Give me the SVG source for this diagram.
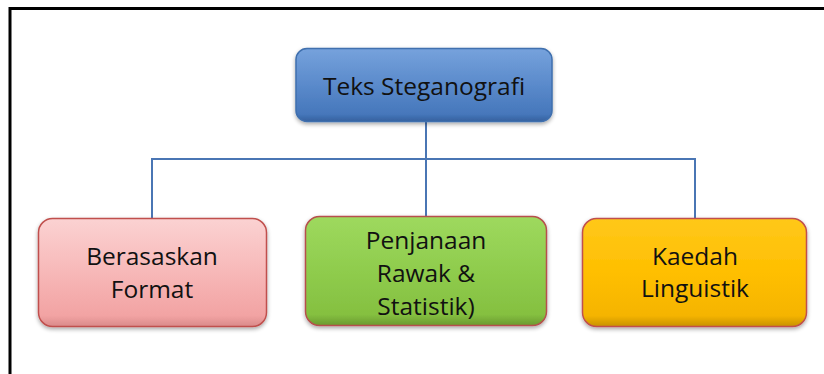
<svg xmlns="http://www.w3.org/2000/svg" width="824" height="374" viewBox="0 0 824 374">
  <style>
    .frame { fill: none; stroke: #000; stroke-width: 3; }
    .link { fill: none; stroke: #4a76b4; stroke-width: 2; }
    .box { stroke-width: 1.5; }
    .label { font-family: "Open Sans", "Liberation Sans", sans-serif; font-size: 24.5px; fill: #111; text-anchor: middle; }
  </style>
  <defs>
    <linearGradient id="gBlue" x1="0" y1="0" x2="0" y2="1">
      <stop offset="0" stop-color="#76a2dc"/>
      <stop offset="0.5" stop-color="#5a8acb"/>
      <stop offset="0.9" stop-color="#4677bb"/>
      <stop offset="1" stop-color="#35609e"/>
    </linearGradient>
    <linearGradient id="gPink" x1="0" y1="0" x2="0" y2="1">
      <stop offset="0" stop-color="#fbd2d2"/>
      <stop offset="0.5" stop-color="#f7b8b8"/>
      <stop offset="0.9" stop-color="#f2a3a3"/>
      <stop offset="1" stop-color="#d98a8a"/>
    </linearGradient>
    <linearGradient id="gGreen" x1="0" y1="0" x2="0" y2="1">
      <stop offset="0" stop-color="#9ed95e"/>
      <stop offset="0.5" stop-color="#8fcc4d"/>
      <stop offset="0.9" stop-color="#85c040"/>
      <stop offset="1" stop-color="#6a9a30"/>
    </linearGradient>
    <linearGradient id="gOrange" x1="0" y1="0" x2="0" y2="1">
      <stop offset="0" stop-color="#ffc81a"/>
      <stop offset="0.5" stop-color="#ffbf00"/>
      <stop offset="0.9" stop-color="#f5b400"/>
      <stop offset="1" stop-color="#c89200"/>
    </linearGradient>
    <filter id="shadow" x="-10%" y="-10%" width="120%" height="130%">
      <feGaussianBlur in="SourceAlpha" stdDeviation="2"/>
      <feOffset dx="0" dy="2" result="b"/>
      <feComponentTransfer><feFuncA type="linear" slope="0.35"/></feComponentTransfer>
      <feMerge><feMergeNode/><feMergeNode in="SourceGraphic"/></feMerge>
    </filter>
  </defs>

  <rect width="824" height="374" fill="#fff"/>
  <!-- open frame: top and left edges -->
  <path class="frame" d="M10 374 V8.5 H824"/>

  <g id="connectors">
    <path class="link" d="M426 122 V159"/>
    <path class="link" d="M152 218 V159 H695 V218"/>
    <path class="link" d="M426 159 V216"/>
  </g>

  <g id="root">
    <rect class="box" x="296" y="48.5" width="256" height="73" rx="11" fill="url(#gBlue)" stroke="#3f6fae" filter="url(#shadow)"/>
    <text class="label" x="424" y="95">Teks Steganografi</text>
  </g>

  <g id="format">
    <rect class="box" x="38.5" y="218.5" width="228" height="108" rx="14" fill="url(#gPink)" stroke="#c0504d" filter="url(#shadow)"/>
    <text class="label" x="152" y="265">Berasaskan</text>
    <text class="label" x="152" y="298">Format</text>
  </g>

  <g id="random">
    <rect class="box" x="305.5" y="216.5" width="241" height="109" rx="14" fill="url(#gGreen)" stroke="#b6504d" filter="url(#shadow)"/>
    <text class="label" x="426" y="249">Penjanaan</text>
    <text class="label" x="426" y="282">Rawak &amp;</text>
    <text class="label" x="426" y="315">Statistik)</text>
  </g>

  <g id="linguistic">
    <rect class="box" x="582.5" y="218.5" width="224" height="108" rx="14" fill="url(#gOrange)" stroke="#c0504d" filter="url(#shadow)"/>
    <text class="label" x="695" y="265">Kaedah</text>
    <text class="label" x="695" y="297">Linguistik</text>
  </g>
</svg>
